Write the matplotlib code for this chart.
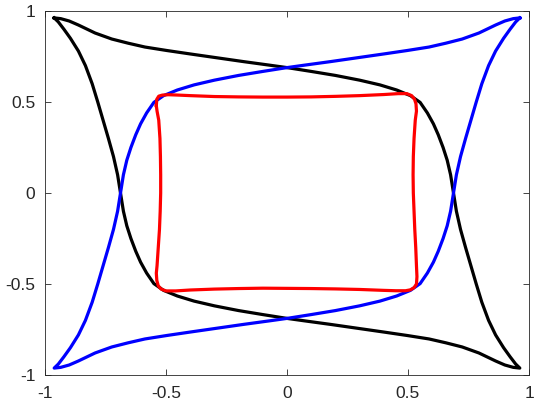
import matplotlib
matplotlib.use("Agg")
import matplotlib.pyplot as plt

# Black curve (TL cusp -> top -> right -> BR cusp -> bottom -> left -> TL cusp)
black_x = [-0.962, -0.935, -0.90, -0.862, -0.793, -0.724, -0.656, -0.587, -0.497, -0.40,
           -0.29, -0.18, -0.07, 0.00, 0.10, 0.20, 0.30, 0.384, 0.453, 0.51,
           0.55, 0.58, 0.605, 0.625, 0.645, 0.662, 0.676, 0.688,
           0.700, 0.717, 0.738, 0.760, 0.782, 0.805, 0.833, 0.862, 0.895, 0.922, 0.945, 0.962,
           0.935, 0.90, 0.862, 0.793, 0.724, 0.656, 0.587, 0.497, 0.40,
           0.29, 0.18, 0.07, 0.00, -0.10, -0.20, -0.30, -0.384, -0.453, -0.51,
           -0.55, -0.58, -0.605, -0.625, -0.645, -0.662, -0.676, -0.688,
           -0.700, -0.717, -0.738, -0.760, -0.782, -0.805, -0.833, -0.862, -0.895, -0.922, -0.945, -0.962]
black_y = [0.962, 0.958, 0.945, 0.923, 0.879, 0.846, 0.823, 0.802, 0.783, 0.764,
           0.743, 0.722, 0.702, 0.689, 0.668, 0.646, 0.620, 0.594, 0.566, 0.535,
           0.498, 0.440, 0.380, 0.320, 0.250, 0.180, 0.100, 0.000,
           -0.10, -0.20, -0.30, -0.40, -0.50, -0.60, -0.70, -0.78, -0.85, -0.90, -0.94, -0.962,
           -0.958, -0.945, -0.923, -0.879, -0.846, -0.823, -0.802, -0.783, -0.764,
           -0.743, -0.722, -0.702, -0.689, -0.668, -0.646, -0.620, -0.594, -0.566, -0.535,
           -0.498, -0.440, -0.380, -0.320, -0.250, -0.180, -0.100, 0.000,
           0.10, 0.20, 0.30, 0.40, 0.50, 0.60, 0.70, 0.78, 0.85, 0.90, 0.94, 0.962]

# Blue curve (TR cusp -> top -> left -> BL cusp -> bottom -> right -> TR cusp)
blue_x = [0.962, 0.935, 0.90, 0.862, 0.793, 0.724, 0.656, 0.587, 0.497, 0.40,
          0.29, 0.18, 0.07, 0.00, -0.10, -0.20, -0.30, -0.384, -0.453, -0.51,
          -0.55, -0.58, -0.605, -0.625, -0.645, -0.662, -0.676, -0.688,
          -0.700, -0.717, -0.738, -0.760, -0.782, -0.805, -0.833, -0.862, -0.895, -0.922, -0.945, -0.962,
          -0.935, -0.90, -0.862, -0.793, -0.724, -0.656, -0.587, -0.497, -0.40,
          -0.29, -0.18, -0.07, 0.00, 0.10, 0.20, 0.30, 0.384, 0.453, 0.51,
          0.55, 0.58, 0.605, 0.625, 0.645, 0.662, 0.676, 0.688,
          0.700, 0.717, 0.738, 0.760, 0.782, 0.805, 0.833, 0.862, 0.895, 0.922, 0.945, 0.962]
blue_y = [0.962, 0.958, 0.945, 0.923, 0.879, 0.846, 0.823, 0.802, 0.783, 0.764,
          0.743, 0.722, 0.702, 0.689, 0.668, 0.646, 0.620, 0.594, 0.566, 0.535,
          0.498, 0.440, 0.380, 0.320, 0.250, 0.180, 0.100, 0.000,
          -0.10, -0.20, -0.30, -0.40, -0.50, -0.60, -0.70, -0.78, -0.85, -0.90, -0.94, -0.962,
          -0.958, -0.945, -0.923, -0.879, -0.846, -0.823, -0.802, -0.783, -0.764,
          -0.743, -0.722, -0.702, -0.689, -0.668, -0.646, -0.620, -0.594, -0.566, -0.535,
          -0.498, -0.440, -0.380, -0.320, -0.250, -0.180, -0.100, 0.000,
          0.10, 0.20, 0.30, 0.40, 0.50, 0.60, 0.70, 0.78, 0.85, 0.90, 0.94, 0.962]

# Red rounded square
red_x = [-0.540, -0.538, -0.530, -0.515, -0.49, -0.45, -0.40, -0.30, -0.20, -0.10, 0.0,
         0.10, 0.20, 0.30, 0.40, 0.46, 0.495, 0.515, 0.527, 0.533, 0.535, 0.530, 0.525,
         0.522, 0.521, 0.522, 0.525, 0.528, 0.532, 0.535, 0.537, 0.535, 0.525, 0.51, 0.49,
         0.45, 0.40, 0.30, 0.20, 0.10, 0.0, -0.10, -0.20, -0.30, -0.40, -0.46, -0.50, -0.52,
         -0.532, -0.538, -0.540, -0.537, -0.532, -0.527, -0.524, -0.522, -0.522, -0.523,
         -0.525, -0.530, -0.537, -0.540]
red_y = [0.48, 0.515, 0.532, 0.538, 0.540, 0.538, 0.535, 0.530, 0.528, 0.527, 0.527,
         0.528, 0.531, 0.535, 0.541, 0.546, 0.546, 0.535, 0.515, 0.49, 0.45, 0.40, 0.30,
         0.20, 0.10, 0.0, -0.10, -0.20, -0.30, -0.40, -0.46, -0.50, -0.52, -0.532, -0.537,
         -0.537, -0.535, -0.530, -0.527, -0.525, -0.524, -0.523, -0.525, -0.528, -0.533, -0.538, -0.538, -0.528,
         -0.51, -0.48, -0.44, -0.40, -0.30, -0.20, -0.10, 0.0, 0.10, 0.20,
         0.30, 0.40, 0.45, 0.48]

ticks = [-1, -0.5, 0, 0.5, 1]
tick_labels = ["-1", "-0.5", "0", "0.5", "1"]

plt.rcParams['font.family'] = ['Liberation Sans', 'DejaVu Sans']

fig = plt.figure(figsize=(5.4, 4.09), dpi=100)
ax = fig.add_axes([45/540, 34/409, 484/540, 364/409])

lw = 2.3
ax.plot(black_x, black_y, color='black', lw=lw, solid_joinstyle='round')
ax.plot(blue_x, blue_y, color='#0000ff', lw=lw, solid_joinstyle='round')
ax.plot(red_x, red_y, color='#ff0000', lw=lw, solid_joinstyle='round')

ax.set_xlim(-1, 1)
ax.set_ylim(-1, 1)
ax.set_xticks(ticks)
ax.set_xticklabels(tick_labels)
ax.set_yticks(ticks)
ax.set_yticklabels(tick_labels)
ax.tick_params(direction='in', top=True, right=True, length=4, width=0.6,
               colors='#262626', labelsize=12.5)
ax.tick_params(axis='x', pad=8)
ax.tick_params(axis='y', pad=7)
for s in ax.spines.values():
    s.set_color('#262626')
    s.set_linewidth(0.6)

fig.savefig('out.png', dpi=100)
